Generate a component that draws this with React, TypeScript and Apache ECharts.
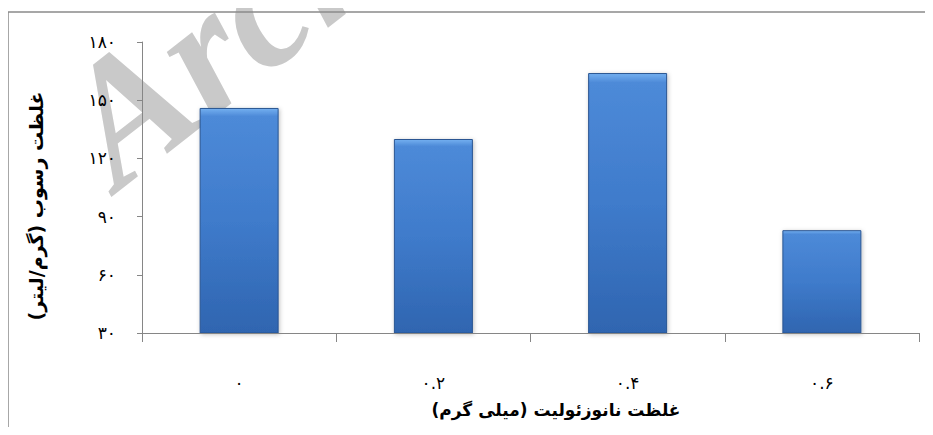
import React, { useEffect, useRef } from "react";
import * as echarts from "echarts";

const categories = ["۰", "۰.۲", "۰.۴", "۰.۶"];
const values = [146, 130, 164, 83];
const yTickLabels: Record<number, string> = {
  30: "۳۰",
  60: "۶۰",
  90: "۹۰",
  120: "۱۲۰",
  150: "۱۵۰",
  180: "۱۸۰",
};
const xTitle = "غلظت نانوزئولیت (میلی گرم)";
const yTitle = "غلظت رسوب (گرم/لیتر)";
const watermark = "Archive of SID";

export default function App() {
  const ref = useRef<HTMLDivElement>(null);
  useEffect(() => {
    if (!ref.current) return;
    const chart = echarts.init(ref.current, undefined, { renderer: "svg" });
    chart.setOption({
      animation: false,
      backgroundColor: "#ffffff",
      grid: { left: 142, right: 14, top: 42, bottom: 102, containLabel: false },
      xAxis: {
        type: "category",
        data: categories,
        boundaryGap: true,
        z: 5,
        axisLine: { show: true, lineStyle: { color: "#868686", width: 1 } },
        axisTick: { show: true, length: 9, lineStyle: { color: "#868686" } },
        axisLabel: {
          margin: 41,
          color: "#000",
          fontSize: 17,
          fontFamily: "DejaVu Sans",
        },
        splitLine: { show: false },
      },
      yAxis: {
        type: "value",
        min: 30,
        max: 180,
        interval: 30,
        z: 5,
        axisLine: { show: true, lineStyle: { color: "#868686", width: 1 } },
        axisTick: { show: true, inside: false, length: 5, lineStyle: { color: "#868686" } },
        axisLabel: {
          margin: 26,
          color: "#000",
          fontSize: 17,
          fontFamily: "DejaVu Sans",
          formatter: (v: number) => yTickLabels[v] ?? String(v),
        },
        splitLine: { show: false },
      },
      series: [
        {
          type: "bar",
          data: values,
          barWidth: 79,
          z: 3,
          itemStyle: {
            color: new echarts.graphic.LinearGradient(0, 0, 0, 1, [
              { offset: 0, color: "#74b0f0" },
              { offset: 0.035, color: "#4d8ad8" },
              { offset: 0.5, color: "#3f7bcb" },
              { offset: 1, color: "#2f65b0" },
            ]),
            borderColor: "#2a5592",
            borderWidth: 1,
            shadowColor: "rgba(0,0,0,0.25)",
            shadowBlur: 4,
            shadowOffsetX: 1,
            shadowOffsetY: 1,
          },
        },
      ],
      graphic: [
        {
          type: "text",
          z: -10,
          x: 136,
          y: 214,
          rotation: (38 * Math.PI) / 180,
          style: {
            text: watermark,
            fill: "#c9c9c9",
            font: "italic bold 175px 'Liberation Serif'",
            textAlign: "left",
            textVerticalAlign: "bottom",
          },
        },
        {
          type: "line",
          shape: { x1: 8, y1: 12, x2: 933, y2: 12 },
          style: { stroke: "#8a8a8a", lineWidth: 1.5 },
        },
        {
          type: "line",
          shape: { x1: 8, y1: 12, x2: 8, y2: 435 },
          style: { stroke: "#8a8a8a", lineWidth: 1.5 },
        },
        {
          type: "text",
          x: 556,
          y: 410,
          style: {
            text: xTitle,
            fill: "#000",
            font: "bold 17px 'DejaVu Sans'",
            textAlign: "center",
            textVerticalAlign: "middle",
          },
        },
        {
          type: "text",
          x: 36,
          y: 206,
          rotation: Math.PI / 2,
          style: {
            text: yTitle,
            fill: "#000",
            font: "bold 19px 'DejaVu Sans'",
            textAlign: "center",
            textVerticalAlign: "middle",
          },
        },
      ],
    });
    return () => chart.dispose();
  }, []);
  return <div ref={ref} style={{ width: 933, height: 435, margin: -8 }} />;
}
